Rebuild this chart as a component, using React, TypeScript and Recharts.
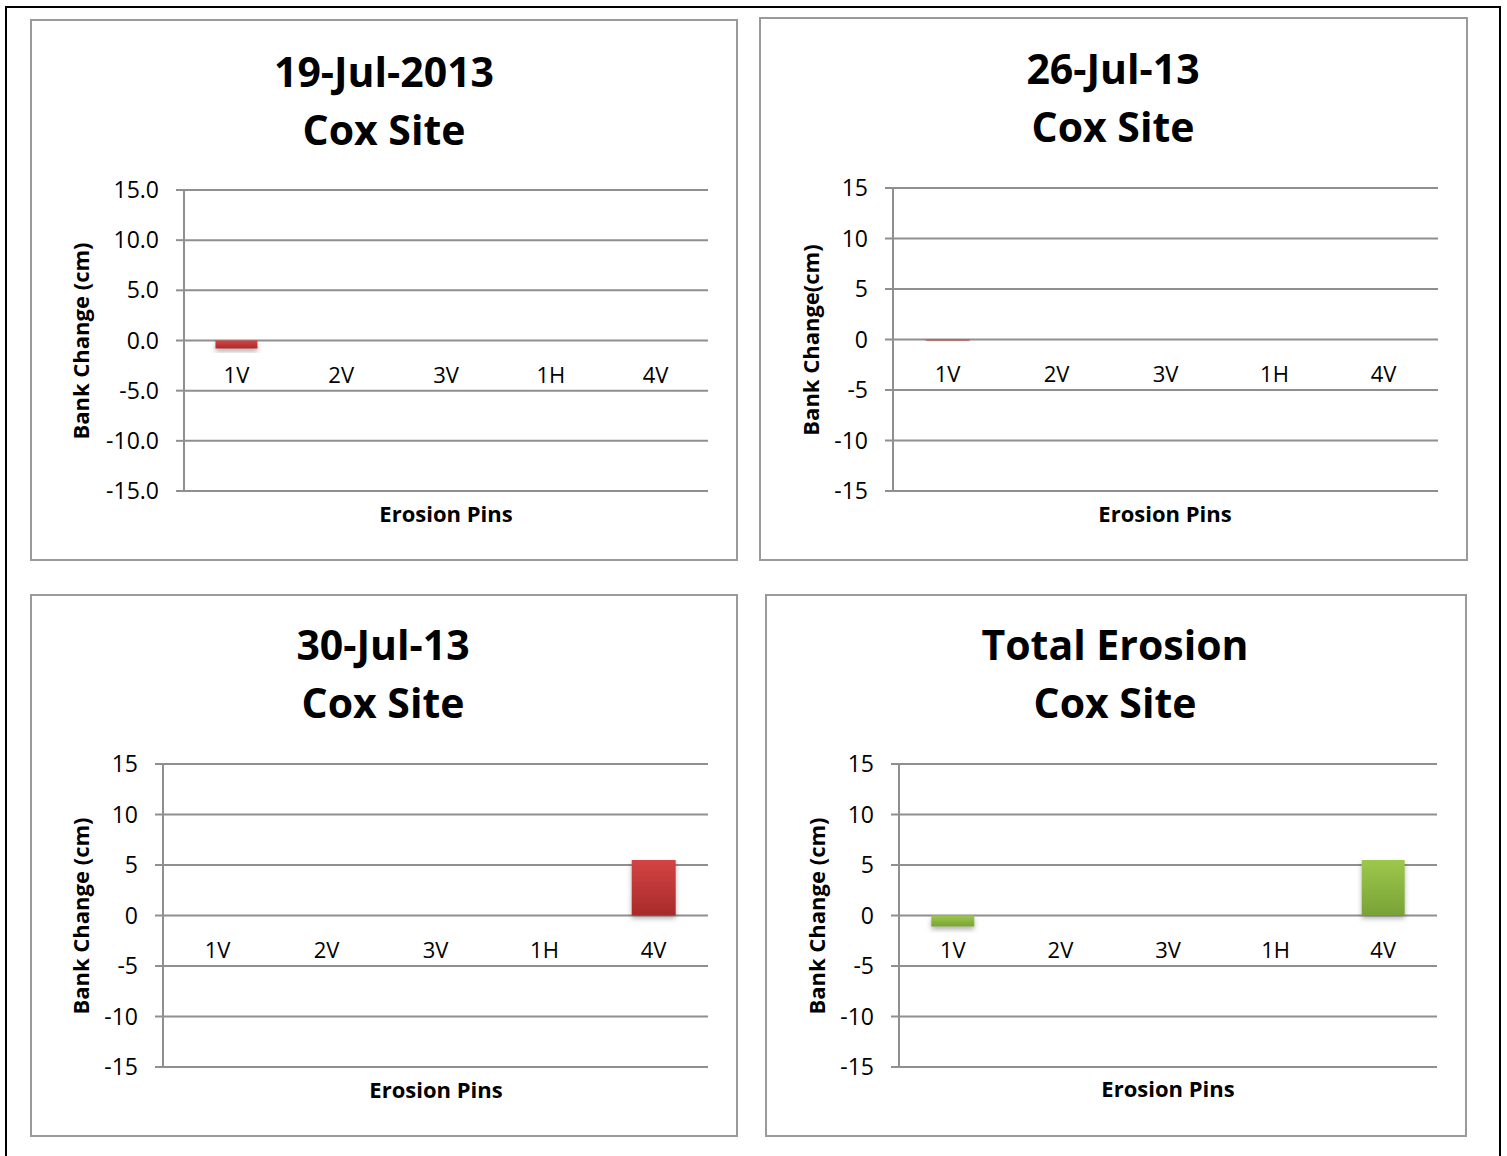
import React from "react"
import { BarChart, Bar, XAxis, YAxis, CartesianGrid } from "recharts"

const pins = ["1V", "2V", "3V", "1H", "4V"]
const jul19 = [-0.8, 0, 0, 0, 0]
const jul26 = [-0.1, 0, 0, 0, 0]
const jul30 = [0, 0, 0, 0, 5.5]
const totalErosion = [-1.1, 0, 0, 0, 5.5]
const yTicks = [-15, -10, -5, 0, 5, 10, 15]

const FONT = "'Open Sans', sans-serif"
const GRID = "#8f8f8f"

const COLORS = {
  red: ["#d44444", "#a82a2a"],
  green: ["#9dc84b", "#78a236"],
}

type Box = { left: number; top: number; width: number; height: number }
type Plot = { left: number; top: number; right: number; bottom: number }

const panels = [
  {
    id: "p1",
    title: ["19-Jul-2013", "Cox Site"],
    values: jul19,
    color: "red" as const,
    decimals: 1,
    yLabel: "Bank Change (cm)",
    box: { left: 30, top: 19, width: 708, height: 542 },
    plot: { left: 184, top: 190, right: 708, bottom: 491 },
    titleX: 384,
    titleY: 71,
    yLabelX: 80,
    xLabelX: 446,
    xLabelY: 513,
  },
  {
    id: "p2",
    title: ["26-Jul-13", "Cox Site"],
    values: jul26,
    color: "red" as const,
    decimals: 0,
    yLabel: "Bank Change(cm)",
    box: { left: 759, top: 17, width: 709, height: 544 },
    plot: { left: 893, top: 188, right: 1438, bottom: 491 },
    titleX: 1113,
    titleY: 68,
    yLabelX: 810,
    xLabelX: 1165,
    xLabelY: 513,
  },
  {
    id: "p3",
    title: ["30-Jul-13", "Cox Site"],
    values: jul30,
    color: "red" as const,
    decimals: 0,
    yLabel: "Bank Change (cm)",
    box: { left: 30, top: 594, width: 708, height: 543 },
    plot: { left: 163, top: 764, right: 708, bottom: 1067 },
    titleX: 383,
    titleY: 644,
    yLabelX: 80,
    xLabelX: 436,
    xLabelY: 1089,
  },
  {
    id: "p4",
    title: ["Total Erosion", "Cox Site"],
    values: totalErosion,
    color: "green" as const,
    decimals: 0,
    yLabel: "Bank Change (cm)",
    box: { left: 765, top: 594, width: 702, height: 543 },
    plot: { left: 899, top: 764, right: 1437, bottom: 1067 },
    titleX: 1115,
    titleY: 644,
    yLabelX: 816,
    xLabelX: 1168,
    xLabelY: 1088,
  },
]

function Panel({ p }: { p: (typeof panels)[number] }) {
  const box: Box = p.box
  const plot: Plot = p.plot
  const data = pins.map((name, i) => ({ name, value: p.values[i] }))
  const plotHeight = plot.bottom - plot.top
  // category labels sit just under the zero line, like Excel does
  const shift = plotHeight / 2 - 25
  const [c1, c2] = COLORS[p.color]
  const midY = (plot.top + plot.bottom) / 2

  const renderCategoryTick = (props: any) => {
    const { x, y, payload } = props
    return (
      <text
        x={x}
        y={y - shift}
        textAnchor="middle"
        dominantBaseline="central"
        fontFamily={FONT}
        fontSize={22}
        fill="#000"
      >
        {payload.value}
      </text>
    )
  }

  return (
    <>
      <div
        style={{
          position: "absolute",
          left: box.left,
          top: box.top,
          width: box.width,
          height: box.height,
          border: "2px solid #9a9a9a",
          boxSizing: "border-box",
        }}
      />
      <div
        style={{
          position: "absolute",
          left: p.titleX - 300,
          top: p.titleY - 29,
          width: 600,
          textAlign: "center",
          fontFamily: FONT,
          fontWeight: 700,
          fontSize: 41,
          lineHeight: "58px",
          color: "#000",
        }}
      >
        {p.title[0]}
        <br />
        {p.title[1]}
      </div>
      <div
        style={{
          position: "absolute",
          left: p.yLabelX - 150,
          top: midY - 15,
          width: 300,
          height: 30,
          lineHeight: "30px",
          textAlign: "center",
          transform: "rotate(-90deg)",
          fontFamily: FONT,
          fontWeight: 700,
          fontSize: 22,
          color: "#000",
        }}
      >
        {p.yLabel}
      </div>
      <div
        style={{
          position: "absolute",
          left: p.xLabelX - 150,
          top: p.xLabelY - 15,
          width: 300,
          height: 30,
          lineHeight: "30px",
          textAlign: "center",
          fontFamily: FONT,
          fontWeight: 700,
          fontSize: 22,
          color: "#000",
        }}
      >
        Erosion Pins
      </div>
      <div style={{ position: "absolute", left: box.left, top: box.top }}>
        <BarChart
          width={box.width}
          height={box.height}
          data={data}
          barCategoryGap="30%"
          margin={{
            top: plot.top - box.top,
            bottom: box.top + box.height - plot.bottom - 1,
            left: 0,
            right: box.left + box.width - plot.right,
          }}
        >
          <defs>
            <linearGradient id={`grad-${p.id}`} x1="0" y1="0" x2="0" y2="1">
              <stop offset="0%" stopColor={c1} />
              <stop offset="100%" stopColor={c2} />
            </linearGradient>
            <filter id={`shadow-${p.id}`} x="-30%" y="-30%" width="160%" height="180%">
              <feDropShadow dx="0" dy="3" stdDeviation="2.5" floodColor="#000" floodOpacity="0.3" />
            </filter>
          </defs>
          <CartesianGrid vertical={false} stroke={GRID} strokeWidth={2} />
          <XAxis
            dataKey="name"
            axisLine={false}
            tickLine={false}
            tick={renderCategoryTick}
            interval={0}
            height={1}
          />
          <YAxis
            domain={[-15, 15]}
            ticks={yTicks}
            width={plot.left - box.left}
            tickFormatter={(v: number) => v.toFixed(p.decimals)}
            axisLine={{ stroke: GRID, strokeWidth: 2 }}
            tickLine={{ stroke: GRID, strokeWidth: 2 }}
            tickSize={8}
            tickMargin={17}
            tick={{ fontFamily: FONT, fontSize: 23, fill: "#000" }}
            interval={0}
          />
          <Bar
            dataKey="value"
            fill={`url(#grad-${p.id})`}
            filter={`url(#shadow-${p.id})`}
            isAnimationActive={false}
          />
        </BarChart>
      </div>
    </>
  )
}

export default function App() {
  return (
    <div style={{ position: "absolute", left: 0, top: 0, width: 1507, height: 1156 }}>
      <div
        style={{
          position: "absolute",
          left: 5,
          top: 6,
          width: 1496,
          height: 1150,
          borderLeft: "2px solid #000",
          borderTop: "2px solid #000",
          borderRight: "2px solid #000",
          boxSizing: "border-box",
        }}
      />
      {panels.map((p) => (
        <Panel key={p.id} p={p} />
      ))}
    </div>
  )
}
